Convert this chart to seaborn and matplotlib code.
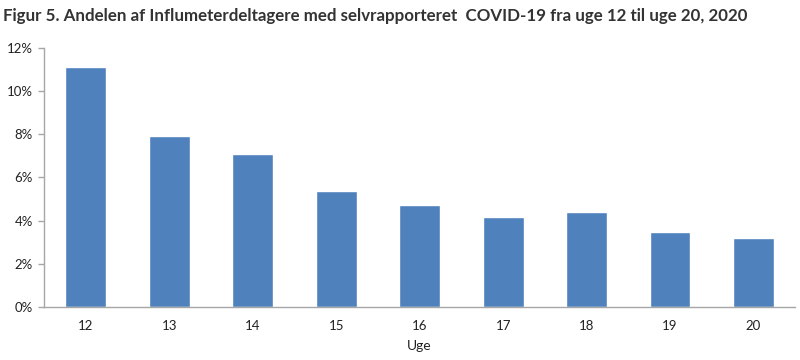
import numpy as np
import pandas as pd
import matplotlib
matplotlib.use("Agg")
import matplotlib.pyplot as plt
import seaborn as sns
from matplotlib.ticker import FixedLocator, FuncFormatter

weeks = ["12", "13", "14", "15", "16", "17", "18", "19", "20"]
share = [11.11, 7.92, 7.09, 5.38, 4.73, 4.17, 4.41, 3.48, 3.20]

df = pd.DataFrame({"Uge": weeks, "Andel": share})

sns.set_style("white")
plt.rcParams['font.family'] = ['Lato', 'DejaVu Sans']

fig = plt.figure(figsize=(8, 3.6), dpi=100)
ax = fig.add_axes([0.055, 0.147, 0.939, 0.721])

sns.barplot(data=df, x="Uge", y="Andel", color="#4F81BD", width=0.49,
            saturation=1, ax=ax)

ax.set_xlim(-0.5, len(weeks) - 0.5)
ax.set_ylim(0, 12)
ax.set_yticks(np.arange(0, 13, 2))
ax.yaxis.set_major_formatter(FuncFormatter(lambda v, p: f"{v:.0f}%"))

# ticks between categories, labels at centers
ax.xaxis.set_minor_locator(FixedLocator(np.arange(-0.5, len(weeks), 1)))
ax.tick_params(axis="x", which="major", length=0, pad=9, labelsize=9.5, colors="#222222")
ax.tick_params(axis="x", which="minor", length=5, width=1, color="#A6A6A6")
ax.tick_params(axis="y", which="major", length=4, width=1, color="#A6A6A6",
               labelsize=9.5, labelcolor="#222222", pad=4, left=True)

for s in ["top", "right"]:
    ax.spines[s].set_visible(False)
for s in ["left", "bottom"]:
    ax.spines[s].set_color("#A6A6A6")
    ax.spines[s].set_linewidth(1)

ax.set_xlabel("Uge", fontsize=10, color="#222222", labelpad=6)
ax.set_ylabel("")

fig.text(0.004, 0.955, "Figur 5. Andelen af Influmeterdeltagere med selvrapporteret  COVID-19 fra uge 12 til uge 20, 2020",
         fontsize=12.2, fontweight="bold", color="#333333", ha="left", va="center")

fig.savefig("out.png", dpi=100)
